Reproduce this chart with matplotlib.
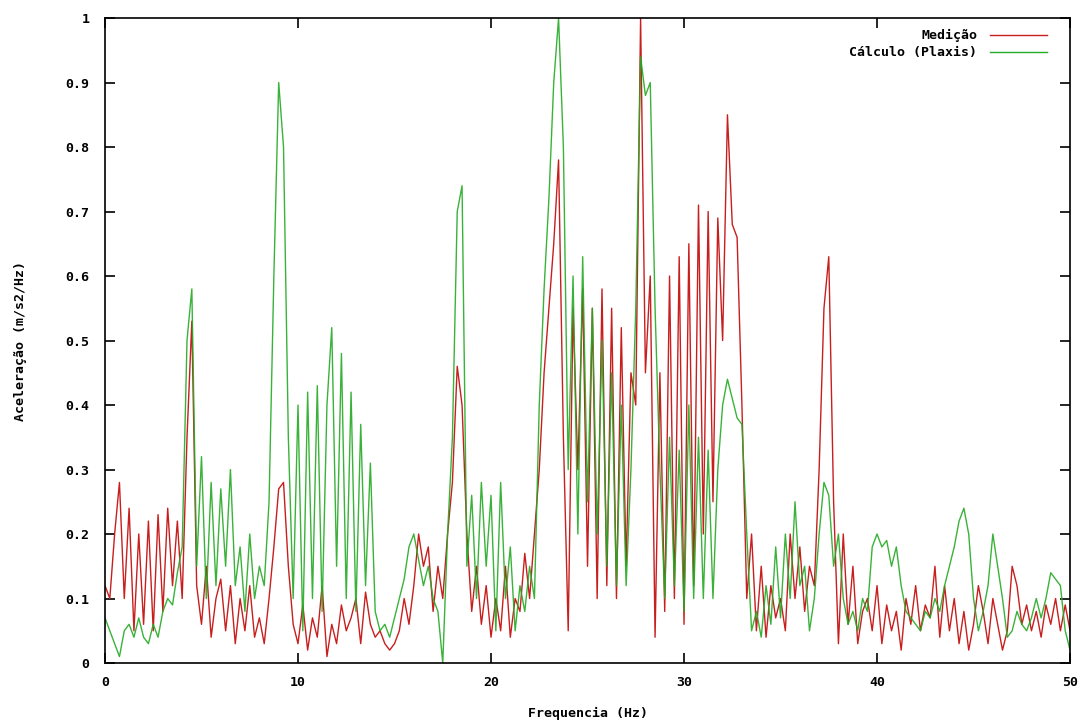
import numpy as np
import matplotlib.pyplot as plt

## Spectrum data (0.25 Hz spacing, 0 - 50 Hz)
freq = np.arange(0, 50.001, 0.25)

medicao = [
    0.12, 0.10, 0.20, 0.28, 0.10, 0.24, 0.05, 0.20, 0.06, 0.22,   # 0.00 - 2.25
    0.05, 0.23, 0.08, 0.24, 0.12, 0.22, 0.10, 0.35, 0.53, 0.12,   # 2.50 - 4.75
    0.06, 0.15, 0.04, 0.10, 0.13, 0.05, 0.12, 0.03, 0.10, 0.05,   # 5.00 - 7.25
    0.12, 0.04, 0.07, 0.03, 0.10, 0.18, 0.27, 0.28, 0.15, 0.06,   # 7.50 - 9.75
    0.03, 0.09, 0.02, 0.07, 0.04, 0.12, 0.01, 0.06, 0.03, 0.09,   # 10.00 - 12.25
    0.05, 0.07, 0.10, 0.03, 0.11, 0.06, 0.04, 0.05, 0.03, 0.02,   # 12.50 - 14.75
    0.03, 0.05, 0.10, 0.06, 0.12, 0.20, 0.15, 0.18, 0.08, 0.15,   # 15.00 - 17.25
    0.10, 0.20, 0.28, 0.46, 0.40, 0.20, 0.08, 0.15, 0.06, 0.12,   # 17.50 - 19.75
    0.04, 0.10, 0.05, 0.15, 0.04, 0.10, 0.08, 0.17, 0.10, 0.20,   # 20.00 - 22.25
    0.30, 0.45, 0.55, 0.65, 0.78, 0.35, 0.05, 0.55, 0.30, 0.58,   # 22.50 - 24.75
    0.15, 0.55, 0.10, 0.58, 0.12, 0.55, 0.10, 0.52, 0.15, 0.45,   # 25.00 - 27.25
    0.40, 1.00, 0.45, 0.60, 0.04, 0.45, 0.08, 0.60, 0.10, 0.63,   # 27.50 - 29.75
    0.06, 0.65, 0.12, 0.71, 0.20, 0.70, 0.25, 0.69, 0.50, 0.85,   # 30.00 - 32.25
    0.68, 0.66, 0.40, 0.10, 0.20, 0.05, 0.15, 0.04, 0.12, 0.07,   # 32.50 - 34.75
    0.10, 0.05, 0.20, 0.10, 0.18, 0.08, 0.15, 0.12, 0.30, 0.55,   # 35.00 - 37.25
    0.63, 0.25, 0.03, 0.20, 0.06, 0.15, 0.03, 0.08, 0.10, 0.05,   # 37.50 - 39.75
    0.12, 0.03, 0.09, 0.05, 0.08, 0.02, 0.10, 0.06, 0.12, 0.05,   # 40.00 - 42.25
    0.09, 0.07, 0.15, 0.04, 0.12, 0.05, 0.10, 0.03, 0.08, 0.02,   # 42.50 - 44.75
    0.06, 0.12, 0.08, 0.03, 0.10, 0.06, 0.02, 0.05, 0.15, 0.12,   # 45.00 - 47.25
    0.06, 0.09, 0.05, 0.08, 0.04, 0.09, 0.06, 0.10, 0.05, 0.09,   # 47.50 - 49.75
    0.05,                                                         # 50.00
]

calculo = [
    0.07, 0.05, 0.03, 0.01, 0.05, 0.06, 0.04, 0.07, 0.04, 0.03,   # 0.00 - 2.25
    0.06, 0.04, 0.08, 0.10, 0.09, 0.14, 0.18, 0.50, 0.58, 0.15,   # 2.50 - 4.75
    0.32, 0.10, 0.28, 0.12, 0.27, 0.15, 0.30, 0.12, 0.18, 0.08,   # 5.00 - 7.25
    0.20, 0.10, 0.15, 0.12, 0.25, 0.60, 0.90, 0.80, 0.35, 0.10,   # 7.50 - 9.75
    0.40, 0.05, 0.42, 0.10, 0.43, 0.08, 0.40, 0.52, 0.15, 0.48,   # 10.00 - 12.25
    0.10, 0.42, 0.08, 0.37, 0.12, 0.31, 0.08, 0.05, 0.06, 0.04,   # 12.50 - 14.75
    0.07, 0.10, 0.13, 0.18, 0.20, 0.16, 0.12, 0.15, 0.10, 0.08,   # 15.00 - 17.25
    0.00, 0.20, 0.35, 0.70, 0.74, 0.15, 0.26, 0.10, 0.28, 0.15,   # 17.50 - 19.75
    0.26, 0.05, 0.28, 0.10, 0.18, 0.05, 0.12, 0.08, 0.15, 0.10,   # 20.00 - 22.25
    0.40, 0.58, 0.72, 0.90, 1.00, 0.80, 0.30, 0.60, 0.20, 0.63,   # 22.50 - 24.75
    0.25, 0.55, 0.20, 0.50, 0.15, 0.45, 0.12, 0.40, 0.12, 0.30,   # 25.00 - 27.25
    0.55, 0.94, 0.88, 0.90, 0.55, 0.30, 0.10, 0.35, 0.12, 0.33,   # 27.50 - 29.75
    0.08, 0.40, 0.10, 0.35, 0.10, 0.33, 0.10, 0.30, 0.40, 0.44,   # 30.00 - 32.25
    0.41, 0.38, 0.37, 0.20, 0.05, 0.08, 0.04, 0.12, 0.06, 0.18,   # 32.50 - 34.75
    0.07, 0.20, 0.10, 0.25, 0.12, 0.15, 0.05, 0.10, 0.20, 0.28,   # 35.00 - 37.25
    0.26, 0.15, 0.20, 0.10, 0.06, 0.08, 0.05, 0.10, 0.08, 0.18,   # 37.50 - 39.75
    0.20, 0.18, 0.19, 0.15, 0.18, 0.12, 0.08, 0.07, 0.06, 0.05,   # 40.00 - 42.25
    0.08, 0.07, 0.10, 0.08, 0.12, 0.15, 0.18, 0.22, 0.24, 0.20,   # 42.50 - 44.75
    0.10, 0.05, 0.08, 0.12, 0.20, 0.15, 0.10, 0.04, 0.05, 0.08,   # 45.00 - 47.25
    0.06, 0.05, 0.07, 0.10, 0.07, 0.10, 0.14, 0.13, 0.12, 0.05,   # 47.50 - 49.75
    0.02,                                                         # 50.00
]

x_ticks = [0, 10, 20, 30, 40, 50]
y_ticks = [0, 0.1, 0.2, 0.3, 0.4, 0.5, 0.6, 0.7, 0.8, 0.9, 1]
y_tick_labels = ['0', '0.1', '0.2', '0.3', '0.4', '0.5', '0.6', '0.7', '0.8', '0.9', '1']

red = '#c81e1e'
green = '#24aa24'

plt.rcParams['font.family'] = ['DejaVu Sans Mono']
plt.rcParams['font.weight'] = 'bold'

fig = plt.figure(figsize=(10.89, 7.22), dpi=100)
ax = fig.add_axes([0.0964, 0.0817, 0.8862, 0.8933])

# draw both spectra
ax.plot(freq, medicao, color=red, linewidth=1.0)
ax.plot(freq, calculo, color=green, linewidth=1.0, alpha=0.9)

ax.set_xlim(0, 50)
ax.set_ylim(0, 1)
ax.set_xticks(x_ticks)
ax.set_yticks(y_ticks)
ax.set_yticklabels(y_tick_labels)
ax.tick_params(direction='in', length=7, width=1.2, top=True, right=True,
               labelsize=9.5)
ax.tick_params(axis='y', pad=11)
ax.tick_params(axis='x', pad=9)
for lab in ax.get_xticklabels() + ax.get_yticklabels():
    lab.set_fontweight('bold')
for sp in ax.spines.values():
    sp.set_linewidth(1.2)

ax.set_xlabel('Frequencia (Hz)', fontsize=9.5, fontweight='bold', labelpad=13)
ax.set_ylabel('Aceleração (m/s2/Hz)', fontsize=9.5, fontweight='bold', labelpad=28)

# key in the top right corner
keys = [('Medição', red, 0.9736), ('Cálculo (Plaxis)', green, 0.947)]
for label, col, yk in keys:
    ax.text(0.9036, yk, label, transform=ax.transAxes, ha='right', va='center',
            fontsize=9.5, fontweight='bold')
    ax.plot([0.917, 0.976], [yk, yk], transform=ax.transAxes, color=col,
            linewidth=1.0)

fig.savefig('out.png', dpi=100)
